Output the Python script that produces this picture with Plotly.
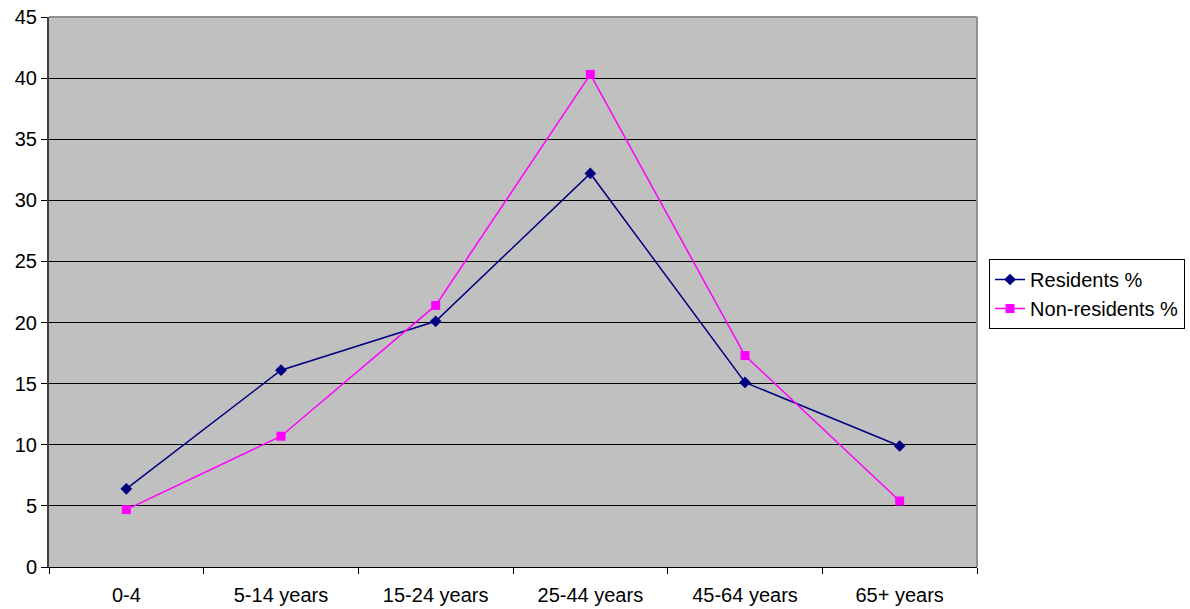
import plotly.graph_objects as go

categories = ["0-4", "5-14 years", "15-24 years", "25-44 years", "45-64 years", "65+ years"]
residents = [6.4, 16.1, 20.1, 32.2, 15.1, 9.9]
non_residents = [4.7, 10.7, 21.4, 40.3, 17.3, 5.4]
y_ticks = [0, 5, 10, 15, 20, 25, 30, 35, 40, 45]

FONT = "Liberation Sans, Arial, sans-serif"

fig = go.Figure()
fig.add_trace(go.Scatter(
    x=categories, y=residents, name="Residents %", mode="lines+markers",
    line=dict(color="#000080", width=1.5),
    marker=dict(symbol="diamond", size=9, color="#000080"),
))
fig.add_trace(go.Scatter(
    x=categories, y=non_residents, name="Non-residents %", mode="lines+markers",
    line=dict(color="#FF00FF", width=1.5),
    marker=dict(symbol="square", size=9, color="#FF00FF"),
))

fig.update_layout(
    width=1190, height=609,
    margin=dict(l=49, r=213, t=17, b=42, autoexpand=False),
    paper_bgcolor="white",
    plot_bgcolor="#C0C0C0",
    font=dict(family=FONT, size=20, color="black"),
    showlegend=True,
    legend=dict(
        x=1.013, y=0.56, xanchor="left", yanchor="top",
        bordercolor="black", borderwidth=1, bgcolor="white",
        font=dict(family=FONT, size=20, color="black"),
        tracegroupgap=0, itemwidth=30,
    ),
    xaxis=dict(
        type="category", range=[-0.5, 5.5], automargin=False,
        showgrid=False, zeroline=False,
        showline=True, linecolor="black", linewidth=1,
        ticks="outside", ticklen=6, tickcolor="black",
        tickson="boundaries", ticklabelstandoff=10,
        tickfont=dict(family=FONT, size=20),
    ),
    yaxis=dict(
        range=[0, 45], tickvals=y_ticks, automargin=False,
        showgrid=True, gridcolor="black", gridwidth=1,
        zeroline=False, ticklabeloverflow="allow",
        showline=True, linecolor="#404040", linewidth=2,
        ticks="outside", ticklen=6, tickcolor="black",
        tickfont=dict(family=FONT, size=20),
    ),
    shapes=[
        dict(type="line", xref="paper", yref="paper", x0=0, x1=1, y0=1, y1=1,
             line=dict(color="#909090", width=2), layer="above"),
        dict(type="line", xref="paper", yref="paper", x0=1, x1=1, y0=0, y1=1,
             line=dict(color="#909090", width=2), layer="above"),
    ],
)

fig.write_html("out.html", config={"displayModeBar": False},
               post_script="document.body.style.margin='0';")
